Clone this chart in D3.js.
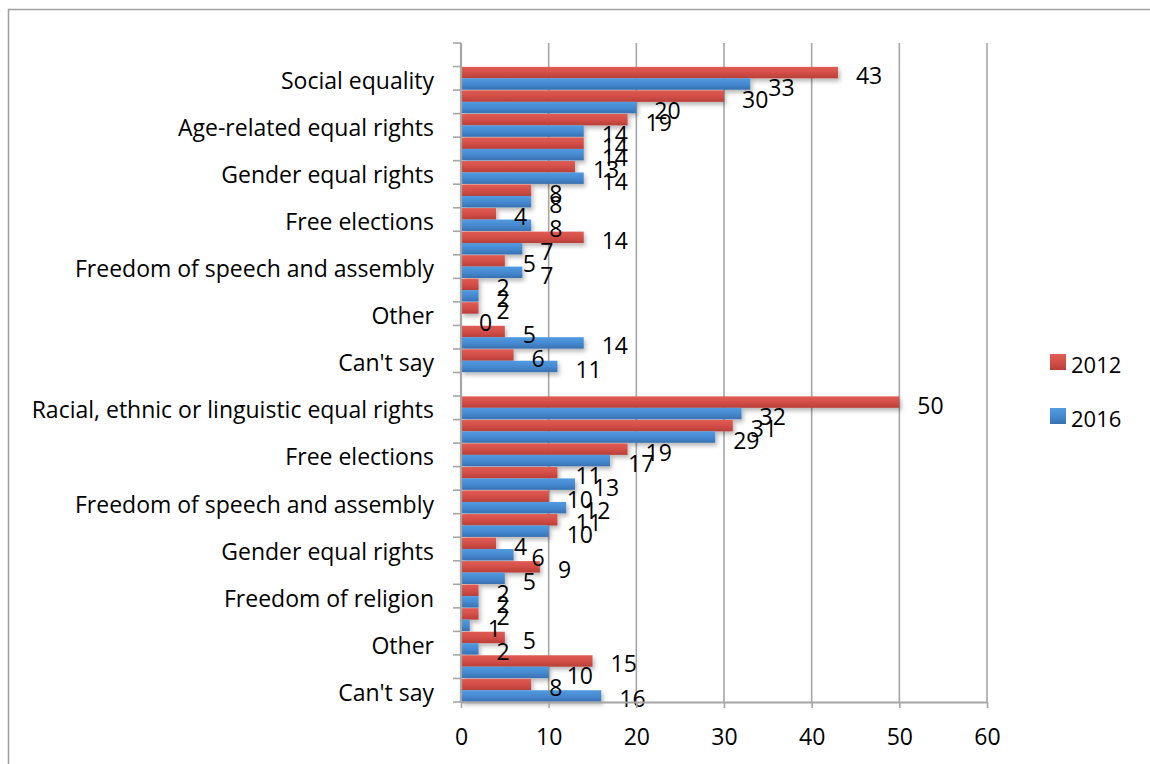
<!DOCTYPE html>
<html>
<head>
<meta charset="utf-8">
<script src="https://cdn.jsdelivr.net/npm/d3@7"></script>
<style>
  html, body { margin: 0; padding: 0; background: #fff; }
  svg { display: block; font-family: "Open Sans", sans-serif; }
</style>
</head>
<body>
<svg id="chart" width="1150" height="764"></svg>
<script>
// Category slots from top to bottom; only every other slot carries a visible label
const categories = [
  "", "Social equality", "", "Age-related equal rights", "", "Gender equal rights", "",
  "Free elections", "", "Freedom of speech and assembly", "", "Other", "", "Can't say",
  "", "Racial, ethnic or linguistic equal rights", "", "Free elections", "",
  "Freedom of speech and assembly", "", "Gender equal rights", "", "Freedom of religion",
  "", "Other", "", "Can't say"
];
const values2012 = [null, 43, 30, 19, 14, 13, 8, 4, 14, 5, 2, 2, 5, 6,
                    null, 50, 31, 19, 11, 10, 11, 4, 9, 2, 2, 5, 15, 8];
const values2016 = [null, 33, 20, 14, 14, 14, 8, 8, 7, 7, 2, 0, 14, 11,
                    null, 32, 29, 17, 13, 12, 10, 6, 5, 2, 1, 2, 10, 16];
const seriesNames = ["2012", "2016"];
const xTicks = [0, 10, 20, 30, 40, 50, 60];

const svg = d3.select("#chart");
const plot = { left: 461, right: 987, top: 43, bottom: 702 };
const gridColor = "#a6a6a6";
const fontSize = 23;
const fontFamily = "'Open Sans', sans-serif";

// chart area frame
svg.append("rect")
  .attr("x", 8.5).attr("y", 9.5).attr("width", 1200).attr("height", 800)
  .attr("fill", "#fff").attr("stroke", "#a0a0a0").attr("stroke-width", 1.5);

const defs = svg.append("defs");
const grads = [
  { id: "g2012", top: "#e05c54", mid: "#d24d46", bot: "#b73f39" },
  { id: "g2016", top: "#529be0", mid: "#4588cf", bot: "#3870b0" }
];
grads.forEach(g => {
  const lg = defs.append("linearGradient").attr("id", g.id)
    .attr("x1", 0).attr("y1", 0).attr("x2", 0).attr("y2", 1);
  lg.append("stop").attr("offset", "0%").attr("stop-color", g.top);
  lg.append("stop").attr("offset", "55%").attr("stop-color", g.mid);
  lg.append("stop").attr("offset", "100%").attr("stop-color", g.bot);
});
const sh = defs.append("filter").attr("id", "shadow")
  .attr("x", "-10%").attr("y", "-40%").attr("width", "130%").attr("height", "200%");
sh.append("feDropShadow").attr("dx", 2).attr("dy", 3).attr("stdDeviation", 2)
  .attr("flood-color", "#000").attr("flood-opacity", 0.28);

const x = d3.scaleLinear().domain([0, 60]).range([plot.left, plot.right]);
const y = d3.scaleBand().domain(d3.range(categories.length))
  .range([plot.top, plot.bottom]).paddingInner(0).paddingOuter(0);
const ySub = d3.scaleBand().domain(seriesNames)
  .range([0, y.bandwidth()]).paddingInner(0).paddingOuter(0.03);

// vertical gridlines
svg.append("g").selectAll("line").data(xTicks.slice(1)).join("line")
  .attr("x1", d => x(d)).attr("x2", d => x(d))
  .attr("y1", plot.top).attr("y2", plot.bottom)
  .attr("stroke", gridColor).attr("stroke-width", 1.6);

// bars
const series = [
  { name: "2012", vals: values2012, fill: "url(#g2012)" },
  { name: "2016", vals: values2016, fill: "url(#g2016)" }
];
const barG = svg.append("g").attr("filter", "url(#shadow)");
series.forEach(s => {
  barG.append("g").selectAll("rect")
    .data(s.vals.map((v, i) => ({ v, i })).filter(d => d.v !== null && d.v > 0))
    .join("rect")
    .attr("x", x(0))
    .attr("y", d => y(d.i) + ySub(s.name))
    .attr("width", d => x(d.v) - x(0))
    .attr("height", ySub.bandwidth())
    .attr("fill", s.fill);
});

// value labels
const labelG = svg.append("g").attr("font-size", fontSize).attr("fill", "#000");
series.forEach(s => {
  labelG.append("g").selectAll("text")
    .data(s.vals.map((v, i) => ({ v, i })).filter(d => d.v !== null))
    .join("text")
    .attr("x", d => x(d.v) + 18)
    .attr("y", d => y(d.i) + ySub(s.name) + ySub.bandwidth() / 2)
    .attr("dy", "0.5em")
    .text(d => d.v);
});

// category axis
const yAxis = d3.axisLeft(y).tickSizeOuter(0).tickSize(0).tickFormat(i => categories[i]);
const yg = svg.append("g").attr("transform", `translate(${plot.left},0)`).call(yAxis);
yg.select(".domain").remove();
yg.selectAll("text").attr("x", -27).attr("dy", "0.46em")
  .attr("font-size", fontSize).attr("font-family", fontFamily).attr("fill", "#000");
// tick marks on band boundaries
const bounds = d3.range(categories.length + 1).map(k => plot.top + k * y.step());
svg.append("g").selectAll("line").data(bounds).join("line")
  .attr("x1", plot.left - 8).attr("x2", plot.left)
  .attr("y1", d => d).attr("y2", d => d)
  .attr("stroke", gridColor).attr("stroke-width", 1.6);
svg.append("line")
  .attr("x1", plot.left).attr("x2", plot.left)
  .attr("y1", plot.top).attr("y2", plot.bottom)
  .attr("stroke", gridColor).attr("stroke-width", 2.2);

// value axis
const xAxis = d3.axisBottom(x).tickValues(xTicks).tickSize(6).tickSizeOuter(0).tickPadding(21);
const xg = svg.append("g").attr("transform", `translate(0,${plot.bottom})`).call(xAxis);
xg.select(".domain").attr("stroke", gridColor).attr("stroke-width", 2.2);
xg.selectAll(".tick line").attr("stroke", gridColor).attr("stroke-width", 1.6);
xg.selectAll("text").attr("font-size", fontSize)
  .attr("font-family", fontFamily).attr("fill", "#000");

// legend
const legend = svg.append("g");
series.forEach((s, k) => {
  const ly = 354 + k * 54;
  legend.append("rect").attr("x", 1050).attr("y", ly).attr("width", 16).attr("height", 16)
    .attr("fill", s.fill);
  legend.append("text").attr("x", 1071).attr("y", ly + 8).attr("dy", "0.48em")
    .attr("font-size", 22).text(s.name);
});
</script>
</body>
</html>
